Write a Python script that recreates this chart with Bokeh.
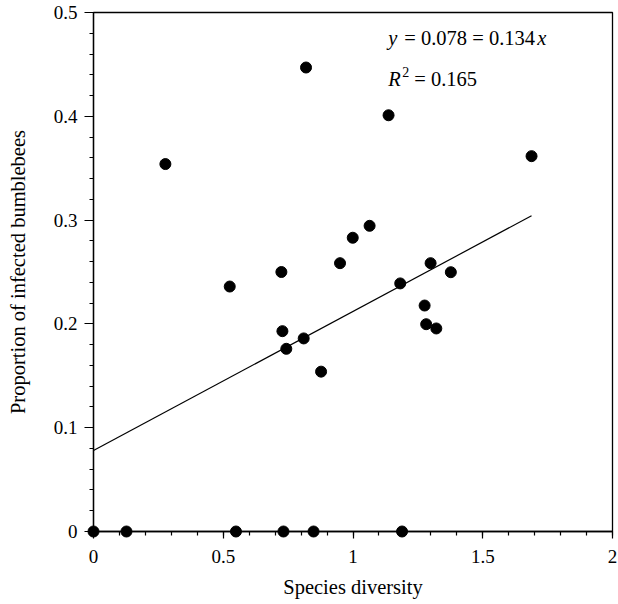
import numpy as np
from bokeh.plotting import figure
from bokeh.models import Label, FixedTicker, NumeralTickFormatter, Range1d
from bokeh.embed import file_html
from bokeh.resources import INLINE

# ---- data ----
diversity = [0.0, 0.127, 0.549, 0.732, 0.848, 1.189,
             0.277, 0.525, 0.724, 0.728, 0.743, 0.810, 0.819, 0.877,
             0.950, 0.999, 1.064, 1.137, 1.182, 1.276, 1.282, 1.299,
             1.321, 1.377, 1.688]
proportion = [0.0, 0.0, 0.0, 0.0, 0.0, 0.0,
              0.354, 0.236, 0.250, 0.193, 0.176, 0.186, 0.447, 0.154,
              0.2585, 0.283, 0.2945, 0.401, 0.239, 0.2177, 0.1997, 0.2585,
              0.1956, 0.2498, 0.3616]
intercept = 0.078
slope = 0.134
r_squared = 0.165
x_ticks = [0, 0.5, 1, 1.5, 2]
x_tick_labels = ["0", "0.5", "1", "1.5", "2"]
y_ticks = [0, 0.1, 0.2, 0.3, 0.4, 0.5]
y_tick_labels = ["0", "0.1", "0.2", "0.3", "0.4", "0.5"]
x_title = "Species diversity"
y_title = "Proportion of infected bumblebees"

FONT = "Liberation Serif"
INK = "#000000"

p = figure(frame_width=519, frame_height=519, output_backend="svg", toolbar_location=None,
           x_range=Range1d(x_ticks[0], x_ticks[-1]), y_range=Range1d(y_ticks[0], y_ticks[-1]),
           min_border_left=93, min_border_right=6, min_border_top=12, min_border_bottom=73)
p.grid.visible = False
p.outline_line_color = INK
p.outline_line_width = 1.3
p.background_fill_color = "white"
p.border_fill_color = "white"

p.xaxis.ticker = FixedTicker(ticks=x_ticks, minor_ticks=list(np.round(np.arange(0, 2.0001, 0.1), 3)))
p.yaxis.ticker = FixedTicker(ticks=y_ticks, minor_ticks=list(np.round(np.arange(0, 0.5001, 0.02), 3)))
p.xaxis.formatter = NumeralTickFormatter(format="0.[0]")
p.yaxis.formatter = NumeralTickFormatter(format="0.[0]")
p.xaxis.major_label_overrides = {t: s for t, s in zip(x_ticks, x_tick_labels)}
p.yaxis.major_label_overrides = {t: s for t, s in zip(y_ticks, y_tick_labels)}

for ax in (p.xaxis, p.yaxis):
    ax.axis_line_color = INK
    ax.axis_line_width = 1.3
    ax.major_tick_line_color = INK
    ax.minor_tick_line_color = INK
    ax.major_tick_line_width = 1.2
    ax.minor_tick_line_width = 1.2
    ax.major_tick_in = 0
    ax.minor_tick_in = 0
    ax.minor_tick_out = 4
    ax.major_label_text_font = FONT
    ax.major_label_text_font_size = "19px"
    ax.major_label_text_color = INK
    ax.axis_label_text_font = FONT
    ax.axis_label_text_font_size = "20.5px"
    ax.axis_label_text_font_style = "normal"
    ax.axis_label_text_color = INK

p.xaxis.major_tick_out = 7
p.yaxis.major_tick_out = 9
p.xaxis.major_label_standoff = 11
p.yaxis.major_label_standoff = 7
p.xaxis.axis_label = x_title
p.yaxis.axis_label = y_title
p.xaxis.axis_label_standoff = 10
p.yaxis.axis_label_standoff = 22

# regression line
fit_x = np.array([0.0, max(diversity)])
fit_y = intercept + slope * fit_x
p.line(x=fit_x, y=fit_y, line_color=INK, line_width=1.2)

# points (drawn above the axes, not clipped at the frame)
p.scatter(x=diversity, y=proportion, size=11, fill_color=INK, line_color=INK, level="overlay")

# equation labels
eq_x = 1.136
eq_y1 = 0.475
eq_y2 = 0.436
common = dict(x_units="data", y_units="data", text_font=FONT, text_color=INK,
              text_baseline="alphabetic", text_align="left")
p.add_layout(Label(x=eq_x, y=eq_y1, text="y", text_font_size="20.5px", text_font_style="italic", **common))
p.add_layout(Label(x=eq_x, y=eq_y1, x_offset=16, text=f"= {intercept:.3f} = {slope:.3f}",
                   text_font_size="20.5px", **common))
p.add_layout(Label(x=eq_x, y=eq_y1, x_offset=149, text="x", text_font_size="20.5px",
                   text_font_style="italic", **common))
p.add_layout(Label(x=eq_x, y=eq_y2, text="R", text_font_size="20.5px", text_font_style="italic", **common))
p.add_layout(Label(x=eq_x, y=eq_y2, x_offset=14, y_offset=7, text="2", text_font_size="14px", **common))
p.add_layout(Label(x=eq_x, y=eq_y2, x_offset=26, text=f"= {r_squared:.3f}", text_font_size="20.5px", **common))

open("out.html", "w").write(file_html(p, INLINE))
